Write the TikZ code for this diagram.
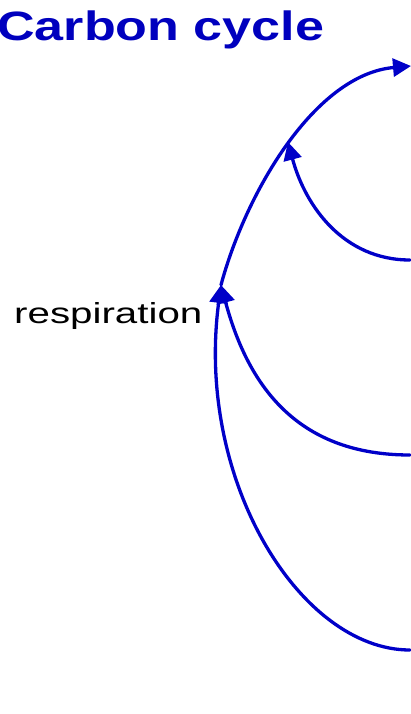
\documentclass[tikz,border=0pt]{standalone}
\usepackage{fontspec}
\setmainfont{Liberation Sans}
\usetikzlibrary{arrows.meta}
\definecolor{cblue}{RGB}{0,0,200}
\definecolor{tblue}{RGB}{0,0,190}
\begin{document}
\begin{tikzpicture}[x=1pt,y=1pt,
  flow/.style={draw=cblue, line width=3.3pt, line cap=round, -{Triangle[length=18pt,width=18pt]}}]
\useasboundingbox (0,0) rectangle (411,-714);
\node[anchor=base west, text=tblue, font=\bfseries\fontsize{41}{41}\selectfont, inner sep=0pt] (title) at (-3,-41) {\scalebox{1.27}[1]{Carbon cycle}};
\node[anchor=base west, text=black, font=\fontsize{29}{29}\selectfont, inner sep=0pt] (resplabel) at (14,-323) {\scalebox{1.39}[1]{respiration}};
\coordinate (aS) at (410,-650);
\coordinate (bS) at (410,-455);
\coordinate (dS) at (410,-260);
\coordinate (resp) at (221,-285);
\coordinate (dT) at (288,-142);
\coordinate (top) at (411,-66);
\draw[flow] (aS) .. controls (300,-650) and (195,-480) .. (resp);
\draw[flow] (bS) to[out=180,in=-75,looseness=1.1] (resp);
\draw[flow] (resp) to[out=75,in=185,looseness=0.85] (top);
\draw[flow] (dS) to[out=180,in=-75] (dT);
\end{tikzpicture}
\end{document}
